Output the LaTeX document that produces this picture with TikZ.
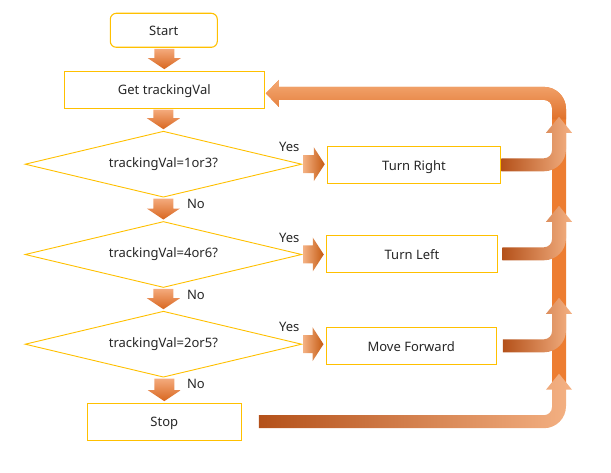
\documentclass[tikz,border=0pt]{standalone}
\usepackage{fontspec}
\setmainfont{Noto Sans}
\usetikzlibrary{positioning,calc,shapes.geometric}
\definecolor{boxline}{HTML}{FFC000}
\definecolor{txt}{HTML}{262626}
\definecolor{downlight}{HTML}{F4AA7C}
\definecolor{downdark}{HTML}{D8661F}
\definecolor{yeslight}{HTML}{F4B183}
\definecolor{yesdark}{HTML}{C55A11}
\definecolor{loopdark}{HTML}{B4511A}
\definecolor{looporange}{HTML}{ED7D31}
\definecolor{looplight}{HTML}{F4B183}
\definecolor{toplight}{HTML}{F4A974}
\definecolor{topdark}{HTML}{E0712A}
\tikzset{
  every node/.style={font=\fontsize{13}{15}\selectfont, text=txt},
  process/.style={draw=boxline, line width=1.1pt, minimum height=37pt, inner sep=0pt, text height=12.5pt, text depth=2pt},
  startstop/.style={process, rounded corners=6pt},
  decision/.style={diamond, shape aspect=4.2, draw=boxline, line width=0.9pt, minimum width=276.7pt, minimum height=66pt, inner sep=0pt},
  answer/.style={inner sep=0pt}
}
% block arrow down from #1 to #2
\newcommand{\downblock}[2]{
  \shade[top color=downlight, bottom color=downdark]
    ($(#1.south -| #2.north)+(-10,1)$) -- ($(#2.north)+(-10,-12.5)$) -- ($(#2.north)+(-16.5,-12.5)$)
    -- ($(#2.north)+(0,-1.5)$) -- ($(#2.north)+(16.5,-12.5)$) -- ($(#2.north)+(10,-12.5)$)
    -- ($(#1.south -| #2.north)+(10,1)$) -- cycle;
}
% block arrow right from #1 to #2
\newcommand{\yesblock}[2]{
  \shade[left color=yeslight, right color=yesdark]
    ($(#1.east)+(1,-9)$) -- ($(#2.west |- #1.east)+(-13,-9)$) -- ($(#2.west |- #1.east)+(-13,-17)$)
    -- ($(#2.west |- #1.east)+(-2,0)$) -- ($(#2.west |- #1.east)+(-13,17)$) -- ($(#2.west |- #1.east)+(-13,9)$)
    -- ($(#1.east)+(1,9)$) -- cycle;
}
% branch from node #1 (gap #2) into the trunk
\newcommand{\loopbranch}[2]{
  \coordinate (j) at (#1.east -| trunk);
  \shade[left color=loopdark, middle color=looporange, right color=looplight]
    ($(#1.east)+(#2,-6.5)$) -- ($(j)+(-15,-6.5)$) arc[start angle=90, end angle=0, radius=8]
    -- ($(j)+(-7,-32)$) -- ($(j)+(-13,-32)$) -- ($(j)+(0,-48)$) -- ($(j)+(13,-32)$) -- ($(j)+(7,-32)$)
    -- ($(j)+(7,-15.5)$) arc[start angle=0, end angle=90, radius=22]
    -- ($(#1.east)+(#2,6.5)$) -- cycle;
}
% trunk and top bar back to get, #2 = bottom end
\newcommand{\backloop}[2]{
  \path[#1] ($(#2)+(-7,0)$) -- ($(c)+(-7,14.5)$) arc[start angle=0, end angle=-90, radius=8]
    -- ($(back)+(13,6.5)$) -- ($(back)+(13,13.5)$) -- (back) -- ($(back)+(13,-13.5)$) -- ($(back)+(13,-6.5)$)
    -- ($(c)+(-15,-6.5)$) arc[start angle=-90, end angle=0, radius=22] -- ($(#2)+(7,0)$) -- cycle;
}

\begin{document}
\begin{tikzpicture}[x=1pt, y=-1pt]
\useasboundingbox (0,0) rectangle (611,473);
\node[startstop, minimum width=107pt, minimum height=34pt] (start) at (163.8,30.3) {Start};
\node[process, minimum width=200pt] (get) at (164.3,89.7) {Get trackingVal};
\foreach \i/\yd/\val/\act/\xa/\ya/\wa in {1/164.2/1or3/Turn Right/414/164.8/173.4,
    2/254.5/4or6/Turn Left/412/253.8/171.4, 3/344.2/2or5/Move Forward/411.2/345.8/170.3} {
  \node[decision] (d\i) at (163.4,\yd) {trackingVal=\val?};
  \node[process, minimum width=\wa] (a\i) at (\xa,\ya) {\act};
  \node[answer] (yes\i) at ($(d\i.east)+(-13,-17)$) {Yes};
  \node[answer] (no\i) at ($(d\i.south)+(32.5,6.7)$) {No};
}
\node[process, minimum width=154pt] (stop) at (164.3,421.7) {Stop};

\foreach \a/\b in {start/get, get/d1, d1/d2, d2/d3, d3/stop} {
  \downblock{\a}{\b}
}
\foreach \i in {1,2,3} {
  \yesblock{d\i}{a\i}
}

\coordinate (trunk) at (559,0);
\coordinate (back) at ($(get.east)+(1,3.7)$);
\coordinate (c) at (back -| trunk);
\coordinate (tb) at ($(stop.east -| trunk)+(0,-36)$);
\coordinate (tc) at ($(c)+(0,26)$);
\backloop{fill=looporange}{tb}
\backloop{top color=toplight, bottom color=topdark}{tc}
\foreach \b/\off in {a1/0, a2/4, a3/6, stop/17} {
  \loopbranch{\b}{\off}
}
\end{tikzpicture}
\end{document}
